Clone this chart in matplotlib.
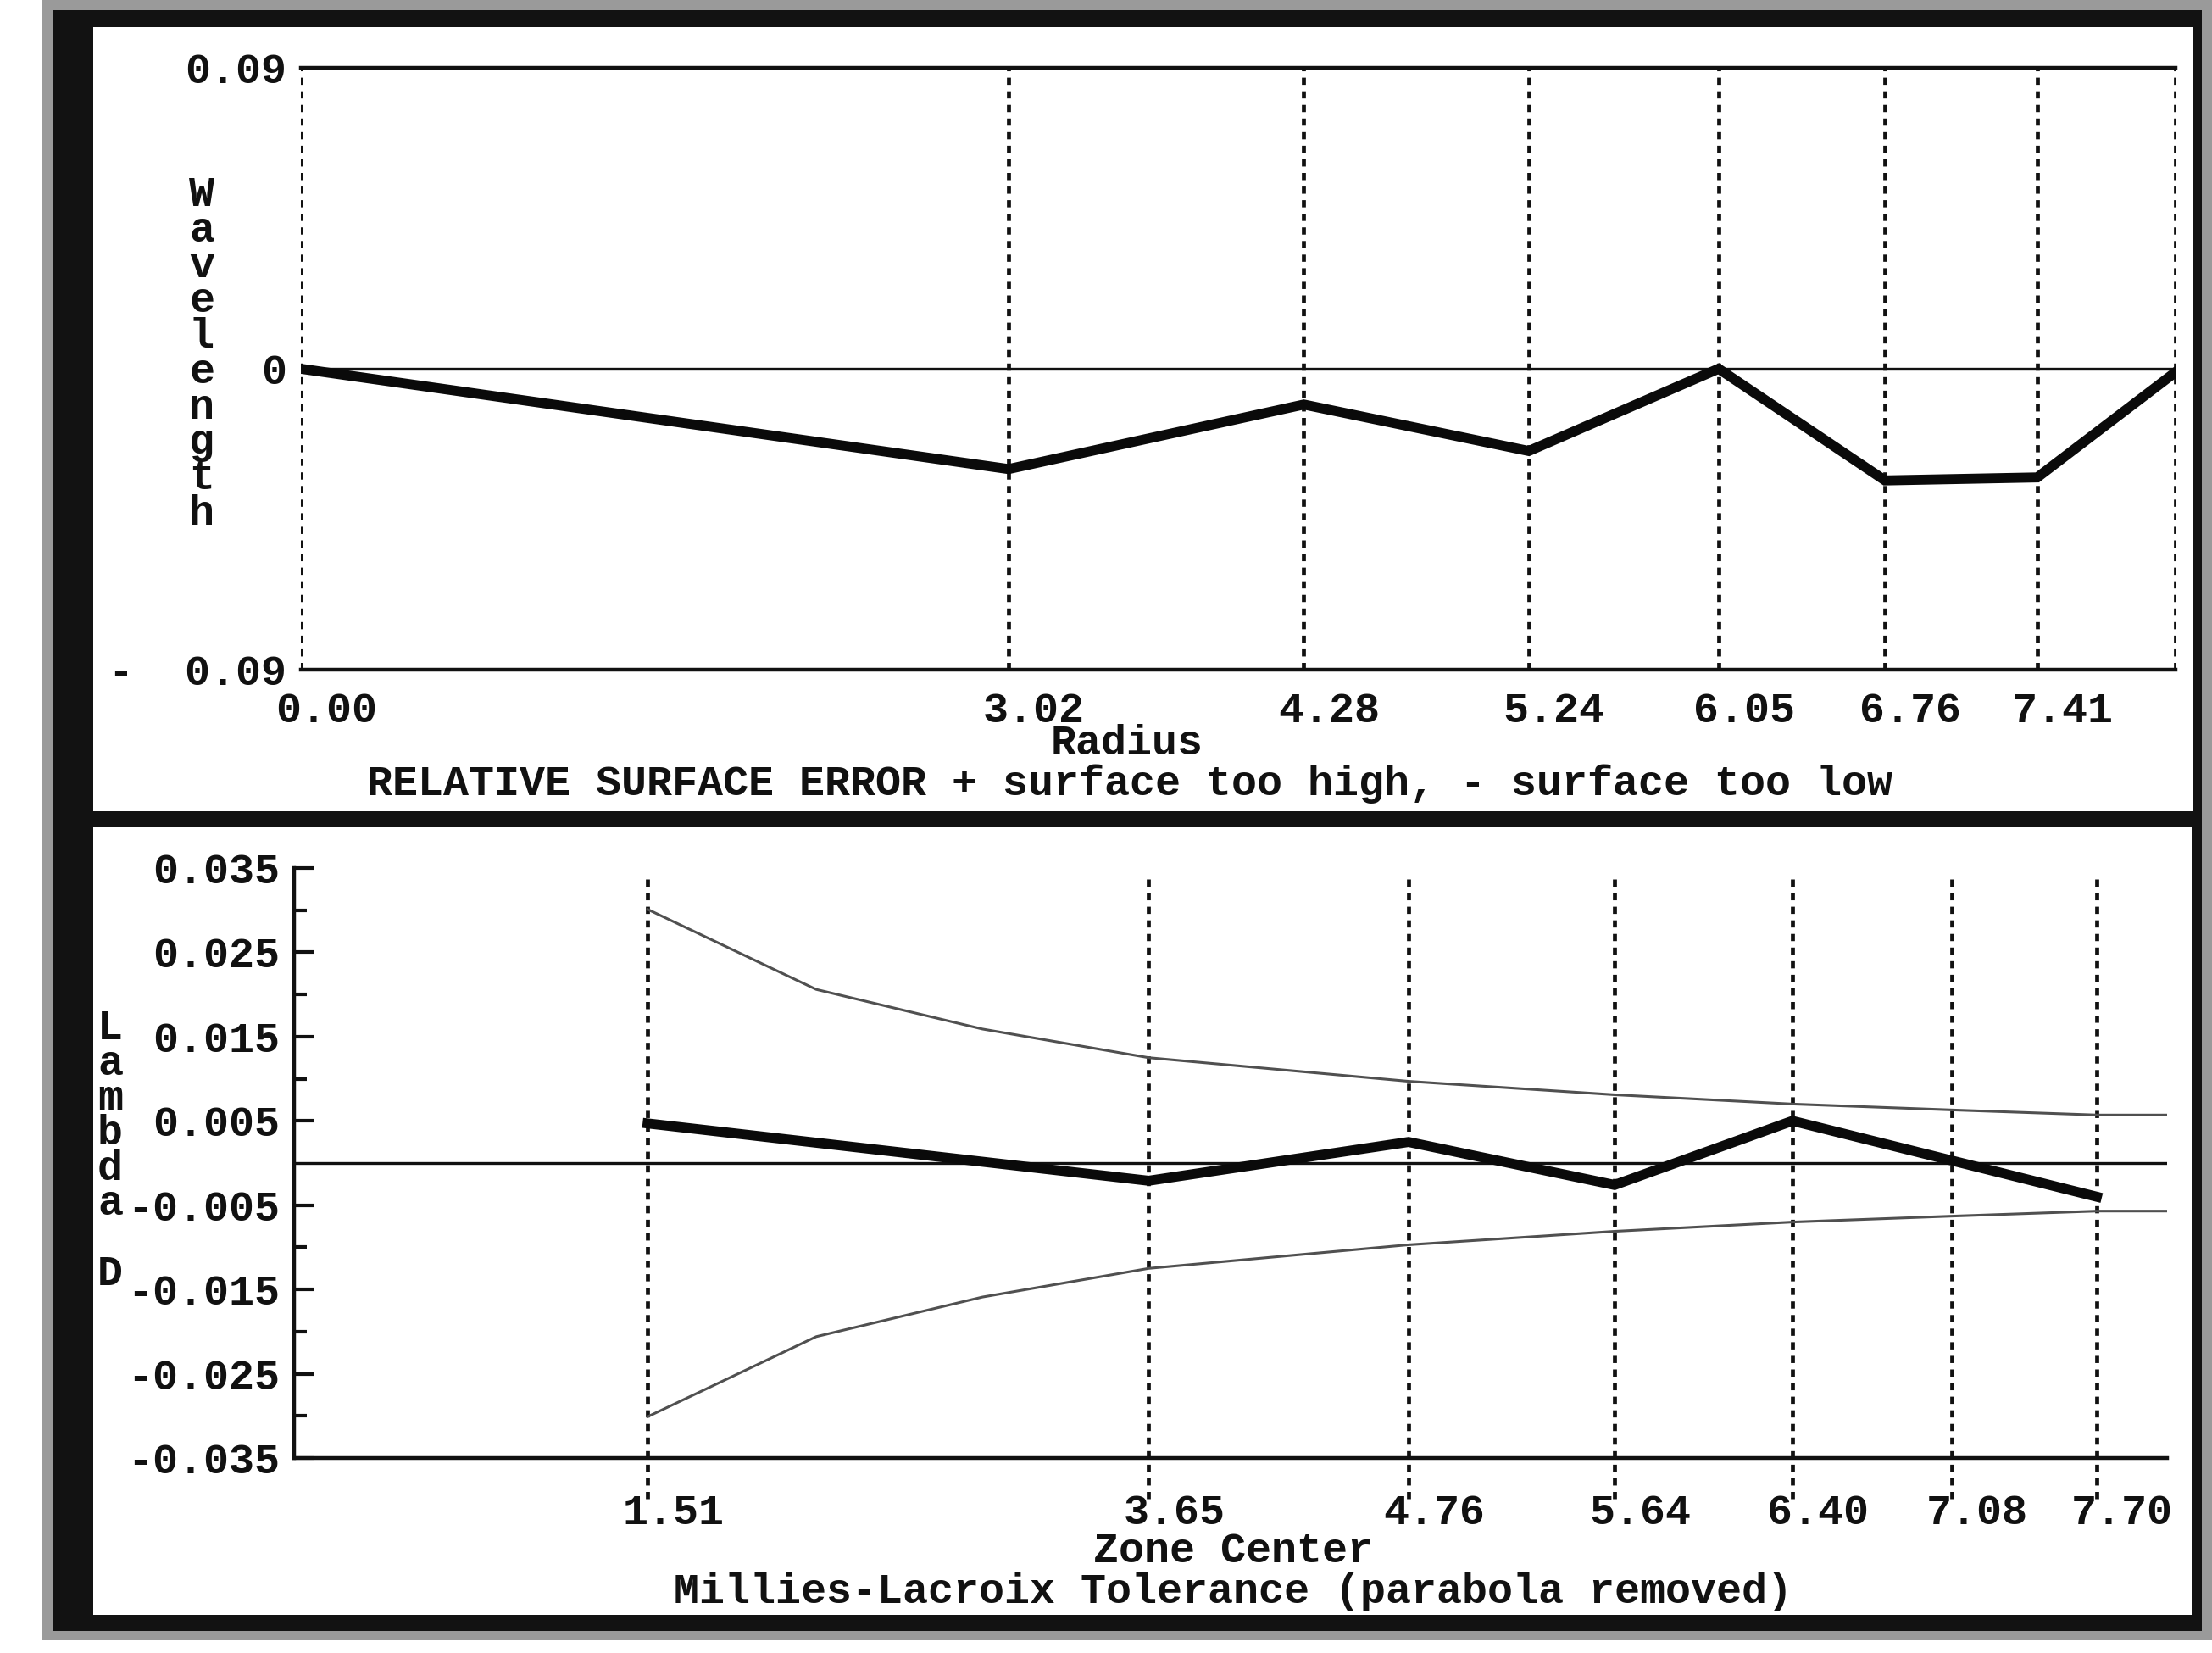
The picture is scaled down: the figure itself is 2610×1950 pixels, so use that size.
import matplotlib
matplotlib.use("Agg")
import matplotlib.pyplot as plt
from matplotlib.patches import Rectangle
from matplotlib.transforms import ScaledTranslation

# Datos del panel superior (error relativo de superficie)
radius = [0.00, 3.02, 4.28, 5.24, 6.05, 6.76, 7.41, 8.00]
radius_labels = ["0.00", "3.02", "4.28", "5.24", "6.05", "6.76", "7.41", ""]
surface_error = [0.0, -0.030, -0.0107, -0.0246, 0.0, -0.0334, -0.0325, -0.001]
wave_ticks = [0.09, 0.0, -0.09]
wave_labels = ["0.09", "0", "-  0.09"]

# Datos del panel inferior (tolerancia Millies-Lacroix)
zone_center = [1.51, 3.65, 4.76, 5.64, 6.40, 7.08, 7.70]
zone_labels = ["1.51", "3.65", "4.76", "5.64", "6.40", "7.08", "7.70"]
ml_error = [0.0047, -0.0021, 0.0025, -0.0026, 0.0050, 0.0003, -0.0040]
tol_x = [1.51, 2.23, 2.94, 3.65, 4.76, 5.64, 6.40, 7.08, 7.70, 8.00]
tol_val = [0.0301, 0.0206, 0.0159, 0.0125, 0.0097, 0.0081, 0.0070, 0.0063, 0.0057, 0.0057]
lambda_ticks = [0.035, 0.025, 0.015, 0.005, -0.005, -0.015, -0.025, -0.035]
lambda_labels = ["0.035", "0.025", "0.015", "0.005", "-0.005", "-0.015", "-0.025", "-0.035"]
lambda_minor = [0.03, 0.02, 0.01, -0.01, -0.02, -0.03]

W, H = 2610, 1950
FS = 36
plt.rcParams["font.family"] = ["Liberation Mono", "DejaVu Sans Mono"]
plt.rcParams["font.weight"] = "bold"

fig = plt.figure(figsize=(W / 100, H / 100), dpi=100)
fig.patch.set_facecolor("white")


def px_rect(x0, y0, x1, y1, color):
    # rectangulo en pixeles (origen arriba a la izquierda)
    r = Rectangle((x0 / W, 1 - y1 / H), (x1 - x0) / W, (y1 - y0) / H,
                  transform=fig.transFigure, facecolor=color, edgecolor="none", zorder=-10)
    fig.add_artist(r)


def px_axes(x0, y0, x1, y1):
    return fig.add_axes([x0 / W, 1 - y1 / H, (x1 - x0) / W, (y1 - y0) / H])


def px_text(x, y, s, **kw):
    fig.text(x / W, 1 - y / H, s, fontsize=FS, fontweight="bold", color="#111111",
             ha=kw.pop("ha", "center"), va=kw.pop("va", "center"), **kw)


# Marco de la ventana
px_rect(50, 0, 2610, 1935, "#9a9a9a")
px_rect(62, 12, 2598, 1924, "#121212")
px_rect(110, 32, 2588, 957, "white")
px_rect(110, 975, 2586, 1905, "white")

# patron de guiones (escalado por el grosor de linea)
dash = (0, (1.8, 1.6))
offset = ScaledTranslation(0.30, 0, fig.dpi_scale_trans)

# ---- Panel superior ----
ax1 = px_axes(355, 80, 2567, 790)
ax1.set_facecolor("none")
ax1.set_xlim(0, 8)
ax1.set_ylim(-0.09, 0.09)
for s in ["left", "right"]:
    ax1.spines[s].set_visible(False)
for s in ["top", "bottom"]:
    ax1.spines[s].set_linewidth(3.2)
    ax1.spines[s].set_color("#111111")
ax1.vlines(radius, -0.09, 0.09, colors="#111111", linewidth=3.4, linestyles=[dash])
ax1.axhline(0, color="#111111", linewidth=2.4)
ax1.plot(radius, surface_error, color="#0a0a0a", linewidth=8.5, solid_joinstyle="miter")
ax1.set_xticks(radius)
ax1.set_xticklabels(radius_labels)
ax1.set_yticks(wave_ticks)
ax1.set_yticklabels(wave_labels)
ax1.tick_params(axis="both", length=0, labelsize=FS, colors="#111111")
ax1.tick_params(axis="x", pad=19)
ax1.tick_params(axis="y", pad=12)
for lab in ax1.get_xticklabels():
    lab.set_transform(lab.get_transform() + offset)

px_text(1330, 877, "Radius")
px_text(1333, 925, "RELATIVE SURFACE ERROR + surface too high, - surface too low")
# etiqueta vertical con letras apiladas
px_text(238, 418, "\n".join("Wavelength"), linespacing=0.88)

# ---- Panel inferior ----
ax2 = px_axes(347, 1024, 2557, 1720)
ax2.set_facecolor("none")
ax2.set_xlim(0, 8)
ax2.set_ylim(-0.035, 0.035)
for s in ["top", "right"]:
    ax2.spines[s].set_visible(False)
for s in ["left", "bottom"]:
    ax2.spines[s].set_linewidth(3.2)
    ax2.spines[s].set_color("#111111")
ax2.vlines(zone_center, -0.0398, 0.0337, colors="#111111", linewidth=3.4,
           linestyles=[dash], clip_on=False)
ax2.axhline(0, color="#111111", linewidth=2.4)
ax2.plot(tol_x, tol_val, color="#505050", linewidth=2.2)
ax2.plot(tol_x, [-v for v in tol_val], color="#505050", linewidth=2.2)
ax2.plot(zone_center, ml_error, color="#0a0a0a", linewidth=8.5, solid_joinstyle="miter")
ax2.set_xticks(zone_center)
ax2.set_xticklabels(zone_labels)
ax2.set_yticks(lambda_ticks)
ax2.set_yticklabels(lambda_labels)
ax2.set_yticks(lambda_minor, minor=True)
ax2.tick_params(axis="x", length=0, labelsize=FS, pad=30, colors="#111111")
ax2.tick_params(axis="y", which="major", direction="in", length=16.5, width=3,
                labelsize=FS, pad=12, colors="#111111")
ax2.tick_params(axis="y", which="minor", direction="in", length=11, width=3, colors="#111111")
for lab in ax2.get_xticklabels():
    lab.set_transform(lab.get_transform() + offset)

px_text(1455, 1830, "Zone Center")
px_text(1455, 1878, "Millies-Lacroix Tolerance (parabola removed)")
# etiqueta vertical del eje, un poco a la izquierda de los numeros
px_text(130, 1358, "\n".join("Lambda D"), linespacing=0.87)

fig.savefig("out.png", dpi=100)
